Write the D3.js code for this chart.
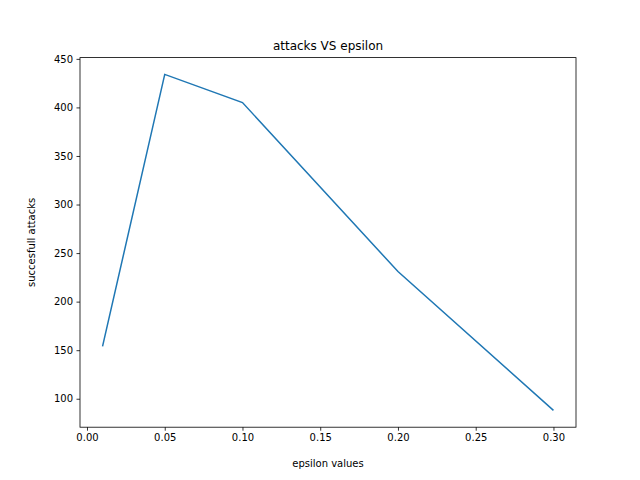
<!DOCTYPE html>
<html>
<head>
<meta charset="utf-8">
<script src="https://d3js.org/d3.v7.min.js"></script>
<style>
  body { margin: 0; background: #fff; }
  text { font-family: "DejaVu Sans", sans-serif; }
</style>
</head>
<body>
<script>
var epsilons = [0.01, 0.05, 0.1, 0.2, 0.3];
var attacks = [154, 434, 405, 231, 88];
var xTicks = [0.00, 0.05, 0.10, 0.15, 0.20, 0.25, 0.30];
var yTicks = [100, 150, 200, 250, 300, 350, 400, 450];

var width = 640, height = 480;
var plotL = 80, plotR = 576, plotT = 57.6, plotB = 427.2;

var svg = d3.select('body').append('svg')
  .attr('width', width).attr('height', height);

var xPad = (d3.max(epsilons) - d3.min(epsilons)) * 0.05;
var yPad = (d3.max(attacks) - d3.min(attacks)) * 0.05;
var x = d3.scaleLinear()
  .domain([d3.min(epsilons) - xPad, d3.max(epsilons) + xPad])
  .range([plotL, plotR]);
var y = d3.scaleLinear()
  .domain([d3.min(attacks) - yPad, d3.max(attacks) + yPad])
  .range([plotB, plotT]);

var xAxis = svg.append('g')
  .attr('transform', 'translate(0,' + plotB + ')')
  .call(d3.axisBottom(x).tickValues(xTicks).tickFormat(d3.format('.2f')).tickSizeOuter(0).tickSize(3.5).tickPadding(3.5));
var yAxis = svg.append('g')
  .attr('transform', 'translate(' + plotL + ',0)')
  .call(d3.axisLeft(y).tickValues(yTicks).tickSizeOuter(0).tickSize(3.5).tickPadding(3.5));
[xAxis, yAxis].forEach(function(a) {
  a.select('.domain').remove();
  a.selectAll('text').style('font-size', '10px').style('font-family', 'DejaVu Sans').attr('fill', '#000');
  a.selectAll('line').attr('stroke', '#000').attr('stroke-width', 0.8);
});

svg.append('rect')
  .attr('x', plotL).attr('y', plotT)
  .attr('width', plotR - plotL).attr('height', plotB - plotT)
  .attr('fill', 'none').attr('stroke', '#000').attr('stroke-width', 0.8);

var line = d3.line()
  .x(function(d, i) { return x(epsilons[i]); })
  .y(function(d) { return y(d); });
svg.append('path')
  .datum(attacks)
  .attr('d', line)
  .attr('fill', 'none')
  .attr('stroke', '#1f77b4')
  .attr('stroke-width', 1.5);

svg.append('text')
  .attr('x', (plotL + plotR) / 2).attr('y', plotT - 8)
  .attr('text-anchor', 'middle').style('font-size', '12px')
  .text('attacks VS epsilon');
svg.append('text')
  .attr('x', (plotL + plotR) / 2).attr('y', 467)
  .attr('text-anchor', 'middle').style('font-size', '10px')
  .text('epsilon values');
svg.append('text')
  .attr('transform', 'translate(35,' + (plotT + plotB) / 2 + ') rotate(-90)')
  .attr('text-anchor', 'middle').style('font-size', '10px')
  .text('succesfull attacks');
</script>
</body>
</html>
